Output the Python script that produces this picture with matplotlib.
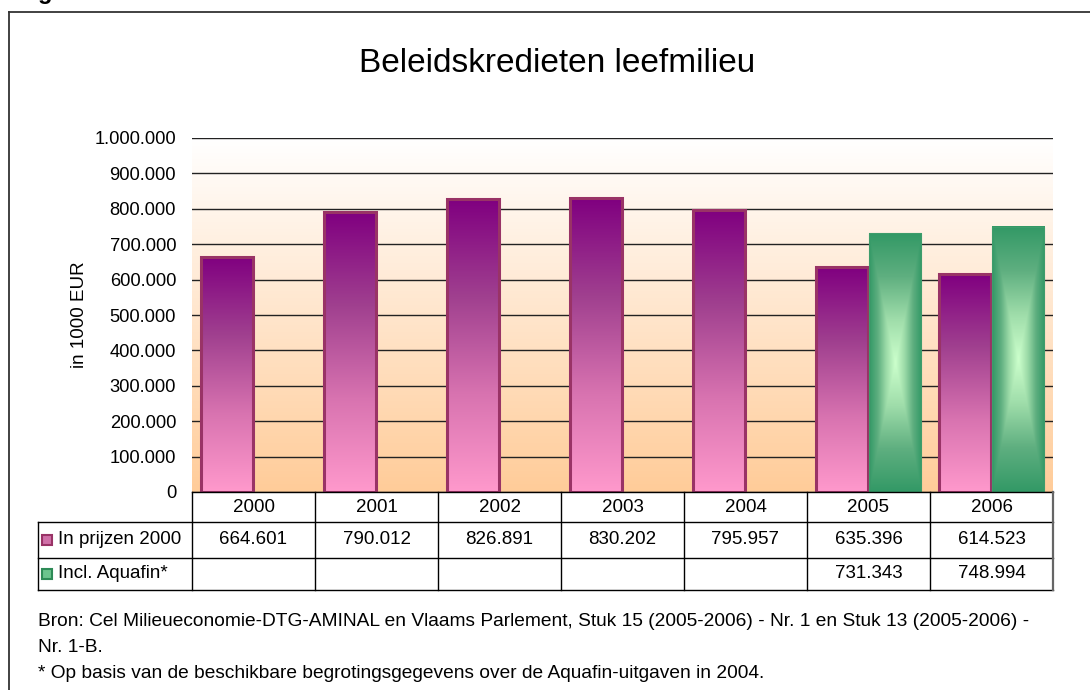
import matplotlib
matplotlib.use('Agg')
import matplotlib.pyplot as plt
from matplotlib.colors import LinearSegmentedColormap
from matplotlib.patches import Rectangle
from matplotlib.lines import Line2D
from matplotlib.ticker import FuncFormatter
import numpy as np

plt.rcParams['font.family'] = ['Liberation Sans', 'DejaVu Sans']

years = ['2000', '2001', '2002', '2003', '2004', '2005', '2006']
prijzen_2000 = [664601, 790012, 826891, 830202, 795957, 635396, 614523]
incl_aquafin = [np.nan, np.nan, np.nan, np.nan, np.nan, 731343, 748994]
series_labels = ['In prijzen 2000', 'Incl. Aquafin*']
title = 'Beleidskredieten leefmilieu'
y_label = 'in 1000 EUR'
notes = ['Bron: Cel Milieueconomie-DTG-AMINAL en Vlaams Parlement, Stuk 15 (2005-2006) - Nr. 1 en Stuk 13 (2005-2006) -',
         'Nr. 1-B.',
         '* Op basis van de beschikbare begrotingsgegevens over de Aquafin-uitgaven in 2004.']


def dots(v):
    return f'{v:,.0f}'.replace(',', '.')


W, H = 1090, 690
fig = plt.figure(figsize=(W / 100, H / 100), dpi=100)
fig.patch.set_facecolor('white')

# plot frame in pixels
L, R, T, B = 192, 1053, 138, 492
AW, AH = R - L, B - T
ax = fig.add_axes([L / W, 1 - B / H, AW / W, AH / H])

# background gradient of plot area
bg = LinearSegmentedColormap.from_list('bg', ['#FFCC99', '#FFFFFF'])
ax.imshow(np.linspace(0, 1, 256).reshape(-1, 1), cmap=bg, origin='lower',
          extent=[0, 1, 0, 1], transform=ax.transAxes, aspect='auto', zorder=0)

x = np.arange(len(years))
bw = 0.425
off = 0.213
purple = ax.bar(x - off, prijzen_2000, bw, facecolor='none', edgecolor='#993366',
                linewidth=2.2, zorder=4)
green = ax.bar(x + off, incl_aquafin, bw, facecolor='none', edgecolor='#3E9C6C',
               linewidth=0.8, zorder=4)

pcmap = LinearSegmentedColormap.from_list('p', ['#FF99CC', '#D873B0', '#A0408F', '#800080'])
for p in purple:
    h = p.get_height()
    if np.isnan(h):
        continue
    x0 = p.get_x()
    ax.imshow(np.linspace(0, 1, 256).reshape(-1, 1), cmap=pcmap, origin='lower',
              extent=[x0, x0 + p.get_width(), 0, h], aspect='auto', zorder=3)

gcmap = LinearSegmentedColormap.from_list('g', ['#CCFFCC', '#9FDDAA', '#5FAF80', '#339966'])
dx = np.abs(np.linspace(-1, 1, 80))
dy = np.abs(np.linspace(-1, 1, 300))
tg = np.maximum(dx[None, :], dy[:, None])
for p in green:
    h = p.get_height()
    if np.isnan(h):
        continue
    x0 = p.get_x()
    ax.imshow(tg, cmap=gcmap, origin='lower', vmin=0, vmax=1,
              extent=[x0, x0 + p.get_width(), 0, h], aspect='auto', zorder=3)

ax.set_xlim(-0.5, len(years) - 0.5)
ax.set_ylim(0, 1_000_000)
ax.set_yticks(np.arange(0, 1_000_001, 100_000))
ax.yaxis.set_major_formatter(FuncFormatter(lambda v, _: dots(v)))
ax.set_xticks([])
ax.set_axisbelow(True)
ax.yaxis.grid(True, color='#222222', linewidth=1.0, zorder=1)
ax.tick_params(axis='y', length=0, pad=11.5, labelsize=13.2)
for s in ax.spines.values():
    s.set_visible(False)

# data table below the plot
xt = ax.get_xaxis_transform()        # x in data, y in axes
row_px = [30, 36, 32]
edges_px = np.cumsum([0] + row_px)   # 0, 30, 66, 98 below the axis
yl = [-e / AH for e in edges_px]
lab_x = (38 - L) / AW
lk = dict(color='black', linewidth=1.0, clip_on=False, zorder=6)

ax.plot([-0.5, 6.5], [yl[0], yl[0]], transform=xt, **lk)
for e in yl[1:]:
    ax.plot([lab_x, 1], [e, e], transform=ax.transAxes, **lk)
ax.plot([lab_x, lab_x], [yl[1], yl[3]], transform=ax.transAxes, **lk)
for j in range(len(years) + 1):
    xb = j - 0.5
    if j == len(years):
        ax.plot([xb, xb], [yl[0], yl[3]], transform=xt, color='#666666',
                linewidth=1.6, clip_on=False, zorder=6)
    else:
        ax.plot([xb, xb], [yl[0], yl[3]], transform=xt, **lk)

tfs = 13.5
for j, yr in enumerate(years):
    ax.text(j, (yl[0] + yl[1]) / 2, yr, transform=xt, ha='center', va='center', fontsize=tfs)
for i, vals in enumerate([prijzen_2000, incl_aquafin]):
    yc = (yl[i + 1] + yl[i + 2]) / 2
    ax.text((58 - L) / AW, yc, series_labels[i], transform=ax.transAxes,
            ha='left', va='center', fontsize=tfs)
    for j, v in enumerate(vals):
        if not np.isnan(v):
            ax.text(j, yc, dots(v), transform=xt, ha='center', va='center', fontsize=tfs)

# legend keys in the row labels
key_colors = [('#D070A8', '#993366'), ('#6CC48E', '#2E8B57')]
for i, (fc, ec) in enumerate(key_colors):
    yc = (yl[i + 1] + yl[i + 2]) / 2
    ax.add_patch(Rectangle(((42 - L) / AW, yc - 5 / AH), 10 / AW, 10 / AH,
                           transform=ax.transAxes, facecolor=fc, edgecolor=ec,
                           linewidth=1.5, clip_on=False, zorder=6))

fig.text(557 / W, 1 - 63 / H, title, ha='center', va='center', fontsize=24)
fig.text(80 / W, 1 - 315 / H, y_label, ha='center', va='center', rotation=90, fontsize=13.5)

for line, yy in zip(notes, [622, 648, 674]):
    fig.text(38 / W, 1 - yy / H, line, ha='left', va='center', fontsize=13.8)

# outer border and cut-off heading
fig.add_artist(Line2D([9 / W, 9 / W], [0, 1 - 12 / H], color='#333333', linewidth=1.3))
fig.add_artist(Line2D([9 / W, 1], [1 - 12 / H, 1 - 12 / H], color='#333333', linewidth=1.3))
fig.text(38 / W, 1 + 1 / H, 'g', ha='left', va='baseline', fontsize=17, fontweight='bold')

fig.savefig('out.png', dpi=100, facecolor='white')
